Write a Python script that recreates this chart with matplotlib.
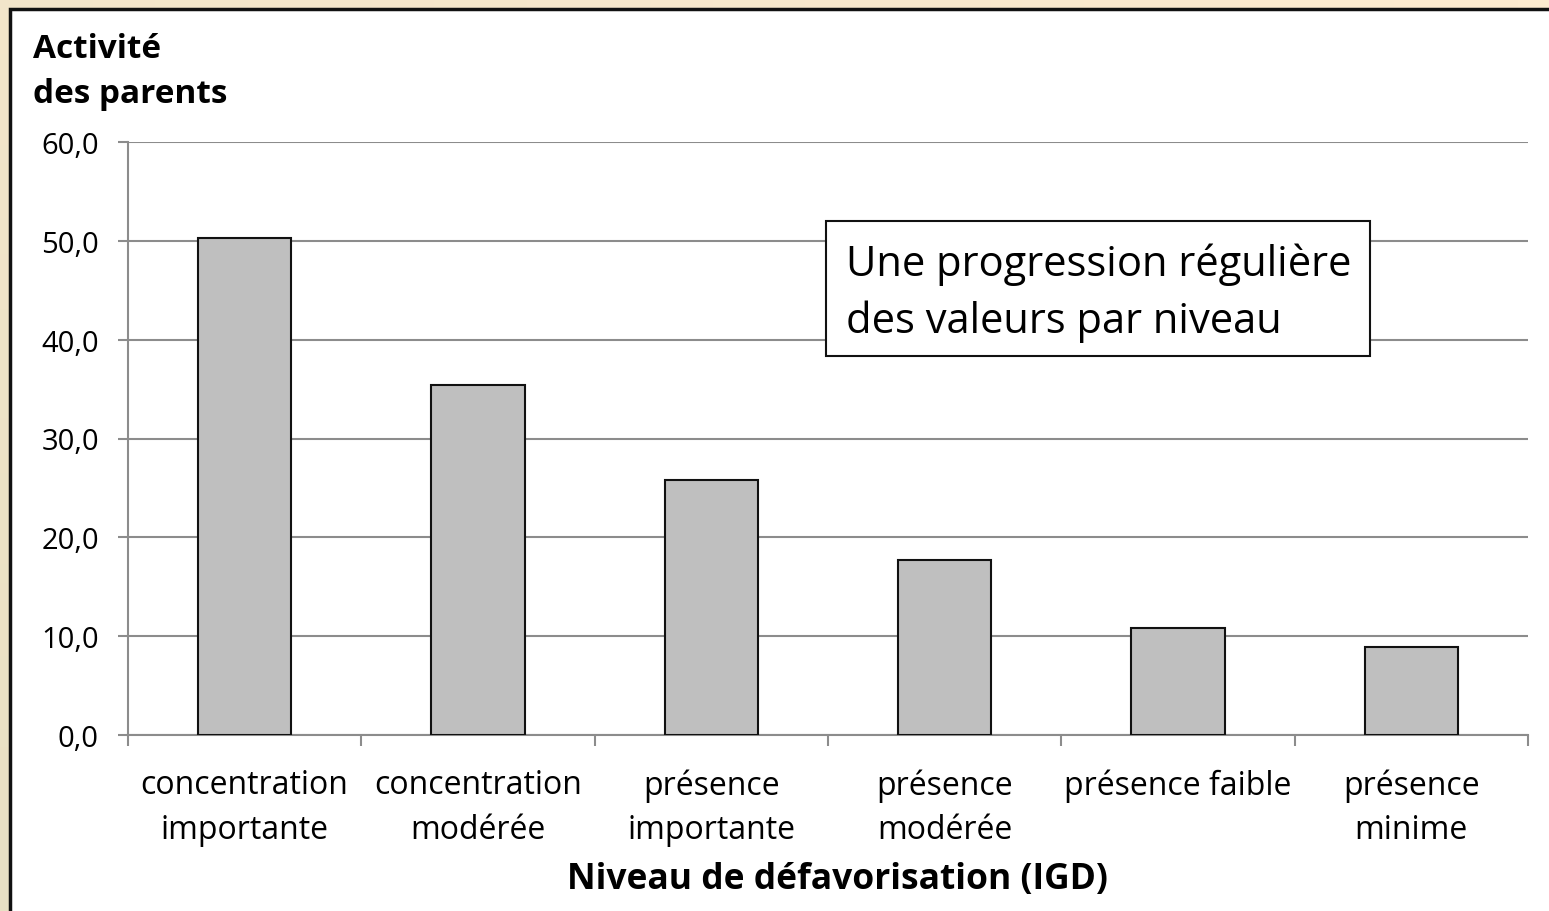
import numpy as np
import matplotlib
matplotlib.use("Agg")
import matplotlib.pyplot as plt
from matplotlib.patches import Rectangle
from matplotlib.ticker import FixedLocator, FuncFormatter

categories = ["concentration\nimportante", "concentration\nmodérée", "présence\nimportante",
              "présence\nmodérée", "présence faible", "présence\nminime"]
values = [50.3, 35.4, 25.8, 17.7, 10.8, 8.9]
yticks = [0, 10, 20, 30, 40, 50, 60]
ylabel_text = "Activité\ndes parents"
xlabel_text = "Niveau de défavorisation (IGD)"
note_text = "Une progression régulière\ndes valeurs par niveau"

plt.rcParams['font.family'] = ['Open Sans', 'DejaVu Sans']

W, H = 1549, 912
fig = plt.figure(figsize=(W / 100, H / 100), dpi=100)

# background gradient
bg = fig.add_axes([0, 0, 1, 1])
bg.set_axis_off()
gx = np.linspace(0, 1, 50)
gy = np.linspace(0, 1, 50)
X, Y = np.meshgrid(gx, gy)
t = np.clip((X + (1 - Y)) / 2, 0, 1)
c1 = np.array([0xE8, 0xE0, 0xC4]) / 255
c2 = np.array([0xFD, 0xEB, 0xD0]) / 255
img = c1[None, None, :] * (1 - t[..., None]) + c2[None, None, :] * t[..., None]
bg.imshow(img, extent=[0, 1, 0, 1], aspect='auto', origin='upper')
bg.set_xlim(0, 1)
bg.set_ylim(0, 1)
bg.add_patch(Rectangle((10 / W, -0.01), 1.0, 1 - 10 / H + 0.01, facecolor='white',
                       edgecolor='#111111', linewidth=2.5, transform=bg.transAxes))

ax = fig.add_axes([128 / W, 1 - 736 / H, 1400 / W, (736 - 143) / H])
ax.set_facecolor('none')
x = np.arange(len(categories))
ax.bar(x, values, width=0.4, color='#BFBFBF', edgecolor='#111111', linewidth=1.5, zorder=3)
ax.set_xlim(-0.5, len(categories) - 0.5)
ax.set_ylim(0, 60)
ax.yaxis.set_major_locator(FixedLocator(yticks))
ax.yaxis.set_major_formatter(FuncFormatter(lambda v, p: f"{v:.1f}".replace('.', ',')))
ax.grid(axis='y', color='#8C8C8C', linewidth=1.5, zorder=0)
for s in ['top', 'right']:
    ax.spines[s].set_visible(False)
ax.spines['left'].set_color('#8C8C8C')
ax.spines['bottom'].set_color('#8C8C8C')
ax.spines['left'].set_linewidth(1.5)
ax.spines['bottom'].set_linewidth(1.5)
ax.tick_params(axis='y', length=7, width=1.5, color='#8C8C8C', labelsize=21, pad=14)
ax.set_xticks(x)
ax.set_xticklabels(categories, fontsize=23, linespacing=1.45)
ax.tick_params(axis='x', length=0, pad=24, labelsize=23)
ax.set_xticks(np.arange(len(categories) + 1) - 0.5, minor=True)
ax.tick_params(axis='x', which='minor', length=8, width=1.5, color='#8C8C8C')

fig.text(33 / W, 1 - 72 / H, ylabel_text, fontsize=24, fontweight='bold', va='center',
         ha='left', linespacing=1.5)
fig.text(837 / W, 1 - 880 / H, xlabel_text, fontsize=25.5, fontweight='bold', va='center',
         ha='center')

ax.add_patch(Rectangle((826 / W, 1 - 357 / H), (1370 - 826) / W, (357 - 222) / H,
                       transform=fig.transFigure, facecolor='white', edgecolor='#111111',
                       linewidth=1.5, zorder=5))
fig.text(846 / W, 1 - 293 / H, note_text, fontsize=30, va='center', ha='left',
         linespacing=1.45, zorder=6)

fig.savefig("out.png", dpi=100)
